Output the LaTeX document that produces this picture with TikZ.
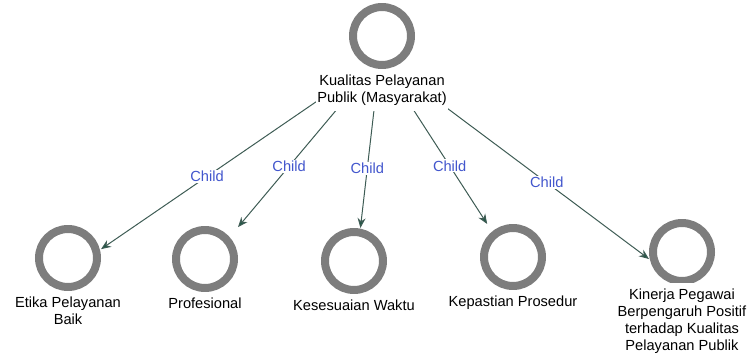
\documentclass[tikz,border=0pt]{standalone}
\usepackage{fontspec}
\setmainfont{Liberation Sans}
\usetikzlibrary{arrows.meta,positioning,backgrounds}
\definecolor{ringgray}{RGB}{125,125,125}
\definecolor{linkgreen}{RGB}{62,92,84}
\definecolor{tipgreen}{RGB}{32,88,70}
\definecolor{childblue}{RGB}{66,86,205}

\begin{document}
\begin{tikzpicture}[x=0.03cm, y=-0.03cm]
\tikzstyle{ring} = [
	shape=rectangle,
	fill=white,
	minimum size=1.98cm, %box round the grey ring
	inner sep=0pt,
	outer sep=0pt,
	path picture={\draw[ringgray, line width=0.24cm]
		(path picture bounding box.center) circle (0.87cm);}
];
\tikzstyle{caption} = [
	align=center,
	fill=white,
	inner xsep=1pt,
	inner ysep=5pt,
	outer sep=0pt,
	font=\fontsize{12.5}{14.6}\selectfont
];
\tikzstyle{childlbl} = [
	fill=white,
	inner sep=1pt,
	text=childblue,
	font=\fontsize{12.5}{15}\selectfont
];

\useasboundingbox (0,0) rectangle (748,354);

%parent concept
\node[ring](Kp) at (382,36) {};
\node[caption, below=0pt of Kp](KpL) {Kualitas Pelayanan\\Publik (Masyarakat)};
\coordinate (Src) at (380,58);

%child concepts
\node[ring](Ep) at (68,258) {};
\node[caption, below=0pt of Ep](EpL) {Etika Pelayanan\\Baik};
\node[ring](Pr) at (205,259) {};
\node[caption, below=0pt of Pr](PrL) {Profesional};
\node[ring](Kw) at (354,261) {};
\node[caption, below=0pt of Kw](KwL) {Kesesuaian Waktu};
\node[ring](Kpr) at (513,257) {};
\node[caption, below=0pt of Kpr](KprL) {Kepastian Prosedur};
\node[ring](Kn) at (682,252) {};
\node[caption, below=-2pt of Kn](KnL) {Kinerja Pegawai\\Berpengaruh Positif\\terhadap Kualitas\\Pelayanan Publik};

%child links
\begin{scope}[on background layer]
\draw[-{Stealth[length=0.3cm,width=0.24cm,fill=tipgreen]}, line width=0.03cm, color=linkgreen]
	(Src) edge node[childlbl, pos=0.62]{Child} (Ep.15)
	(Src) edge node[childlbl, pos=0.64]{Child} (Pr.44)
	(Src) edge node[childlbl, pos=0.65]{Child} (Kw.79)
	(Src) edge node[childlbl, pos=0.65]{Child} (Kpr.128)
	(Src) edge node[childlbl, pos=0.62]{Child} (Kn.192)
;
\end{scope}
\end{tikzpicture}
\end{document}
